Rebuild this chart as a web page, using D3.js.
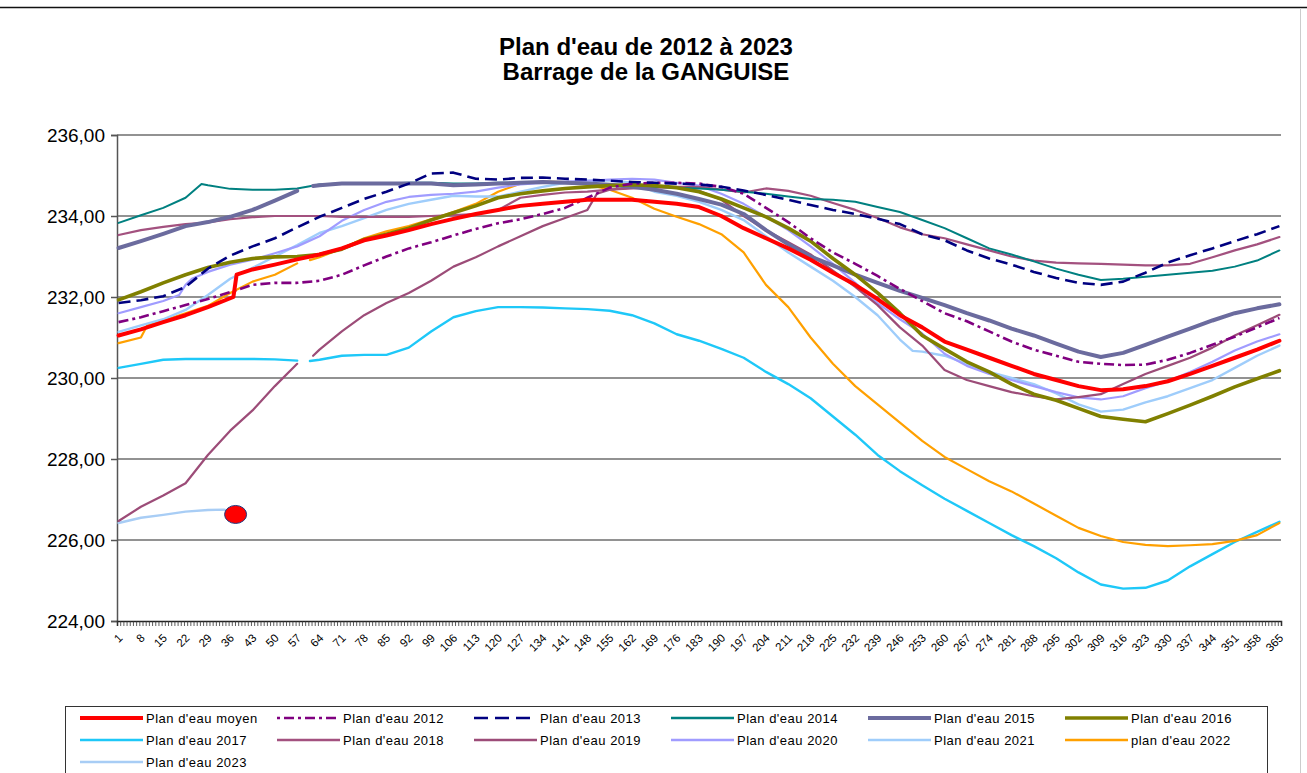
<!DOCTYPE html>
<html><head><meta charset="utf-8">
<script src="https://cdn.jsdelivr.net/npm/d3@7"></script>
<style>
html,body{margin:0;padding:0;background:#fff;}
svg{display:block;font-family:Arial,"Liberation Sans",sans-serif;}
</style></head>
<body>
<svg id="chart" width="1307" height="773"></svg>
<script>
// ---------- DATA (day, level in m NGF) ----------
const yTickValues = [224, 226, 228, 230, 232, 234, 236];
const xTickDays = [1,8,15,22,29,36,43,50,57,64,71,78,85,92,99,106,113,120,127,134,141,148,155,162,169,176,183,190,197,204,211,218,225,232,239,246,253,260,267,274,281,288,295,302,309,316,323,330,337,344,351,358,365];

const moyen = [[1,231.05],[8,231.2],[15,231.38],[22,231.55],[29,231.75],[37,232.0],[38,232.55],[43,232.68],[50,232.8],[57,232.93],[64,233.05],[71,233.2],[78,233.4],[85,233.52],[92,233.65],[99,233.8],[106,233.93],[113,234.05],[120,234.15],[127,234.25],[134,234.3],[141,234.35],[148,234.4],[155,234.4],[162,234.4],[169,234.35],[176,234.3],[183,234.22],[190,234.0],[197,233.7],[204,233.45],[211,233.2],[218,232.92],[225,232.6],[232,232.3],[239,231.95],[246,231.55],[253,231.25],[260,230.9],[267,230.7],[274,230.5],[281,230.3],[288,230.1],[295,229.95],[302,229.8],[309,229.7],[316,229.72],[323,229.8],[330,229.92],[337,230.1],[344,230.3],[351,230.5],[358,230.7],[365,230.92]];

const y2012 = [[1,231.38],[8,231.5],[15,231.65],[22,231.8],[29,231.95],[36,232.12],[43,232.3],[50,232.35],[57,232.35],[64,232.4],[71,232.55],[78,232.78],[85,233.0],[92,233.2],[99,233.35],[106,233.52],[113,233.68],[120,233.82],[127,233.92],[134,234.05],[141,234.2],[148,234.45],[155,234.7],[162,234.8],[169,234.82],[176,234.82],[183,234.8],[190,234.72],[197,234.55],[204,234.2],[211,233.85],[218,233.45],[225,233.1],[232,232.82],[239,232.52],[246,232.2],[253,231.9],[260,231.6],[267,231.4],[274,231.15],[281,230.9],[288,230.7],[295,230.55],[302,230.4],[309,230.35],[316,230.32],[323,230.33],[330,230.45],[337,230.62],[344,230.82],[351,231.02],[358,231.25],[365,231.48]];

const y2013 = [[1,231.85],[8,231.92],[15,232.02],[22,232.25],[29,232.7],[36,233.02],[43,233.25],[50,233.45],[57,233.72],[64,233.98],[71,234.2],[78,234.42],[85,234.6],[92,234.8],[99,235.05],[106,235.07],[113,234.92],[120,234.9],[127,234.94],[134,234.95],[141,234.92],[148,234.9],[155,234.87],[162,234.84],[169,234.82],[176,234.8],[183,234.78],[190,234.72],[197,234.63],[204,234.52],[211,234.4],[218,234.27],[225,234.15],[232,234.05],[239,233.93],[246,233.8],[253,233.55],[260,233.4],[267,233.15],[274,232.95],[281,232.8],[288,232.62],[295,232.47],[302,232.35],[309,232.3],[316,232.38],[323,232.6],[330,232.85],[337,233.03],[344,233.2],[351,233.38],[358,233.55],[365,233.75]];

const y2014 = [[1,233.83],[8,234.02],[15,234.2],[22,234.45],[27,234.79],[29,234.76],[36,234.67],[43,234.65],[50,234.65],[57,234.68],[64,234.78],[71,234.8],[78,234.8],[85,234.8],[92,234.82],[99,234.82],[106,234.8],[113,234.8],[120,234.82],[127,234.82],[134,234.82],[141,234.82],[148,234.8],[155,234.78],[162,234.75],[169,234.72],[176,234.7],[183,234.68],[190,234.65],[197,234.6],[204,234.55],[211,234.48],[218,234.42],[225,234.4],[232,234.35],[239,234.22],[246,234.1],[253,233.9],[260,233.7],[267,233.45],[274,233.2],[281,233.05],[288,232.88],[295,232.7],[302,232.55],[309,232.42],[316,232.45],[323,232.5],[330,232.55],[337,232.6],[344,232.65],[351,232.75],[358,232.9],[365,233.15]];

const y2015 = [[1,233.21],[8,233.38],[15,233.56],[22,233.75],[29,233.85],[36,233.98],[43,234.15],[50,234.38],[57,234.62],[59,null],[62,234.74],[64,234.76],[71,234.8],[78,234.8],[85,234.8],[92,234.8],[99,234.8],[106,234.76],[113,234.78],[120,234.8],[127,234.82],[134,234.84],[141,234.82],[148,234.8],[155,234.77],[162,234.72],[169,234.65],[176,234.55],[183,234.42],[190,234.28],[197,234.05],[204,233.65],[211,233.3],[218,233.0],[225,232.78],[232,232.55],[239,232.35],[246,232.15],[253,231.98],[260,231.8],[267,231.6],[274,231.42],[281,231.22],[288,231.05],[295,230.85],[302,230.65],[309,230.52],[316,230.62],[323,230.82],[330,231.02],[337,231.22],[344,231.42],[351,231.6],[358,231.72],[365,231.82]];

const y2016 = [[1,231.93],[8,232.13],[15,232.35],[22,232.55],[29,232.73],[36,232.86],[43,232.95],[50,232.99],[57,233.0],[64,233.05],[71,233.18],[78,233.42],[85,233.55],[92,233.7],[99,233.9],[106,234.08],[113,234.25],[120,234.45],[127,234.55],[134,234.62],[141,234.68],[148,234.72],[155,234.75],[162,234.77],[169,234.75],[176,234.7],[183,234.6],[190,234.42],[197,234.2],[204,233.98],[211,233.7],[218,233.38],[225,232.95],[232,232.55],[239,232.1],[246,231.6],[253,231.05],[260,230.72],[267,230.4],[274,230.15],[281,229.85],[288,229.6],[295,229.45],[302,229.25],[309,229.05],[316,228.98],[323,228.92],[330,229.12],[337,229.33],[344,229.55],[351,229.78],[358,229.98],[365,230.18]];

const y2017 = [[1,230.25],[8,230.35],[15,230.45],[22,230.47],[29,230.47],[36,230.47],[43,230.47],[50,230.46],[57,230.43],[59,null],[61,230.42],[64,230.45],[71,230.55],[78,230.57],[85,230.57],[92,230.75],[99,231.15],[106,231.5],[113,231.65],[120,231.75],[127,231.75],[134,231.74],[141,231.72],[148,231.7],[155,231.66],[162,231.55],[169,231.35],[176,231.08],[183,230.92],[190,230.72],[197,230.5],[204,230.15],[211,229.85],[218,229.5],[225,229.05],[232,228.6],[239,228.1],[246,227.7],[253,227.35],[260,227.02],[267,226.72],[274,226.42],[281,226.12],[288,225.85],[295,225.55],[302,225.2],[309,224.9],[316,224.8],[323,224.82],[330,225.0],[337,225.35],[344,225.65],[351,225.95],[358,226.2],[365,226.45]];

const y2018 = [[1,233.53],[8,233.65],[15,233.73],[22,233.8],[29,233.84],[36,233.92],[43,233.97],[50,234.0],[57,234.0],[64,234.0],[71,233.98],[78,233.98],[85,233.98],[92,233.98],[99,234.0],[106,234.02],[113,234.05],[120,234.15],[127,234.45],[134,234.52],[141,234.58],[148,234.6],[155,234.65],[162,234.68],[169,234.7],[176,234.72],[183,234.72],[190,234.65],[197,234.58],[204,234.68],[211,234.62],[218,234.5],[225,234.32],[232,234.15],[239,233.95],[246,233.72],[253,233.55],[260,233.45],[267,233.3],[274,233.15],[281,233.0],[288,232.9],[295,232.85],[302,232.83],[309,232.82],[316,232.8],[323,232.78],[330,232.78],[337,232.82],[344,232.98],[351,233.15],[358,233.3],[365,233.48]];

const y2019 = [[1,226.47],[8,226.82],[15,227.1],[22,227.4],[29,228.1],[36,228.7],[43,229.2],[50,229.8],[57,230.35],[59,null],[62,230.55],[64,230.7],[71,231.15],[78,231.55],[85,231.85],[92,232.1],[99,232.4],[106,232.75],[113,232.98],[120,233.25],[127,233.5],[134,233.75],[141,233.95],[148,234.15],[151,234.55],[155,234.65],[162,234.7],[169,234.72],[176,234.7],[183,234.62],[190,234.4],[197,234.0],[204,233.65],[211,233.35],[218,233.05],[225,232.65],[232,232.25],[239,231.8],[246,231.25],[253,230.8],[260,230.2],[267,229.95],[274,229.8],[281,229.65],[288,229.55],[295,229.47],[302,229.53],[309,229.6],[316,229.85],[323,230.1],[330,230.3],[337,230.5],[344,230.75],[351,231.05],[358,231.3],[365,231.56]];

const y2020 = [[1,231.6],[8,231.75],[15,231.9],[20,232.05],[22,232.3],[24,232.45],[29,232.62],[36,232.8],[43,232.92],[50,233.08],[57,233.25],[64,233.5],[71,233.88],[78,234.15],[85,234.35],[92,234.47],[99,234.52],[106,234.55],[113,234.6],[120,234.7],[127,234.78],[134,234.82],[141,234.85],[148,234.87],[155,234.9],[162,234.92],[169,234.9],[176,234.82],[183,234.75],[190,234.55],[197,234.3],[204,233.98],[211,233.65],[218,233.25],[225,232.82],[232,232.35],[239,231.85],[246,231.45],[253,231.1],[260,230.6],[267,230.3],[274,230.1],[281,229.95],[288,229.8],[295,229.65],[302,229.52],[309,229.47],[316,229.55],[323,229.75],[330,229.92],[337,230.15],[344,230.4],[351,230.68],[358,230.9],[365,231.08]];

const y2021 = [[1,231.14],[8,231.3],[15,231.45],[22,231.68],[29,232.05],[36,232.45],[43,232.72],[50,233.0],[57,233.28],[64,233.58],[71,233.75],[78,233.95],[85,234.15],[92,234.3],[99,234.4],[106,234.5],[113,234.48],[120,234.48],[127,234.6],[134,234.72],[141,234.82],[148,234.87],[155,234.88],[162,234.82],[169,234.6],[176,234.5],[183,234.35],[190,234.15],[197,233.9],[204,233.5],[211,233.1],[218,232.75],[225,232.4],[232,232.0],[239,231.55],[246,230.95],[250,230.67],[253,230.65],[260,230.55],[267,230.35],[274,230.15],[281,230.0],[288,229.85],[295,229.62],[302,229.35],[309,229.17],[316,229.22],[323,229.4],[330,229.55],[337,229.75],[344,229.95],[351,230.25],[358,230.55],[365,230.8]];

const y2022 = [[1,230.86],[8,231.0],[10,231.3],[15,231.42],[22,231.6],[29,231.78],[36,232.1],[43,232.38],[50,232.55],[57,232.83],[59,null],[61,232.91],[64,232.98],[71,233.2],[78,233.45],[85,233.62],[92,233.75],[99,233.92],[106,234.1],[113,234.3],[120,234.6],[127,234.8],[134,234.85],[141,234.84],[148,234.78],[155,234.65],[162,234.45],[169,234.18],[176,233.98],[183,233.8],[190,233.55],[197,233.1],[204,232.3],[211,231.75],[218,231.0],[225,230.35],[232,229.8],[239,229.35],[246,228.9],[253,228.45],[260,228.05],[267,227.75],[274,227.45],[281,227.2],[288,226.9],[295,226.6],[302,226.3],[309,226.1],[316,225.95],[323,225.88],[330,225.85],[337,225.87],[344,225.9],[351,225.98],[358,226.12],[365,226.42]];

const y2023 = [[1,226.42],[8,226.55],[15,226.62],[22,226.7],[29,226.74],[34,226.75],[38,226.68]];

const seriesNames = ["Plan d'eau moyen","Plan d'eau 2012","Plan d'eau 2013","Plan d'eau 2014","Plan d'eau 2015","Plan d'eau 2016","Plan d'eau 2017","Plan d'eau 2018","Plan d'eau 2019","Plan d'eau 2020","Plan d'eau 2021","plan d'eau 2022","Plan d'eau 2023"];
const seriesData = [moyen,y2012,y2013,y2014,y2015,y2016,y2017,y2018,y2019,y2020,y2021,y2022,y2023];
const seriesColors = ["#ff0000","#800080","#000080","#008080","#6b6b9e","#808000","#1ec8f8","#a3517f","#9c4c78","#a09cff","#9fcdfb","#ffa000","#a8cdf5"];
const seriesWidths = [4,2.6,2.6,2,4,3.6,2.4,2.2,2.2,2.2,2.4,2.2,2.4];
const seriesDash = [null,"10,4,3,4","12,6",null,null,null,null,null,null,null,null,null,null];
// draw order (back to front)
const drawOrder = [12,6,11,10,9,8,7,3,4,5,1,2,0];

// ---------- CHART ----------
const svg = d3.select("#chart");
const L = 117, R = 1281, T = 135, B = 621;

// outer border remnants
svg.append("line").attr("x1",0).attr("x2",1307).attr("y1",7.5).attr("y2",7.5).attr("stroke","#111").attr("stroke-width",1.5);
svg.append("line").attr("x1",1300.5).attr("x2",1300.5).attr("y1",8).attr("y2",773).attr("stroke","#ccc").attr("stroke-width",1);

// title
const title = svg.append("text").attr("text-anchor","middle").attr("font-weight","bold").attr("font-size",24).attr("fill","#000");
title.append("tspan").attr("x",646).attr("y",55).text("Plan d'eau de 2012 à 2023");
title.append("tspan").attr("x",646).attr("y",80).text("Barrage de la GANGUISE");

const x = d3.scaleLinear().domain([0.5,365.5]).range([L,R]);
const y = d3.scaleLinear().domain([224,236]).range([B,T]);

// gridlines
svg.append("g").selectAll("line").data(yTickValues.filter(v=>v>224)).join("line")
  .attr("x1",L).attr("x2",R).attr("y1",d=>y(d)).attr("y2",d=>y(d))
  .attr("stroke","#6e6e6e").attr("stroke-width",1.5);

// y axis
const yAxis = svg.append("g").attr("transform",`translate(${L},0)`)
  .call(d3.axisLeft(y).tickValues(yTickValues).tickSize(6).tickPadding(6)
    .tickFormat(d=>d3.format(".2f")(d).replace(".",",")));
yAxis.select(".domain").attr("stroke","#555").attr("stroke-width",1.5);
yAxis.selectAll(".tick line").attr("stroke","#555").attr("stroke-width",1.5);
yAxis.selectAll("text").attr("font-size",19).attr("fill","#000").attr("font-family","Arial, 'Liberation Sans', sans-serif");

// x axis ticks (every day)
const xAxis = svg.append("g").attr("transform",`translate(0,${B})`)
  .call(d3.axisBottom(x).tickValues(d3.range(0.5,366,1)).tickSize(5).tickFormat(""));
xAxis.select(".domain").attr("stroke","#222").attr("stroke-width",1.5);
xAxis.selectAll(".tick line").attr("stroke","#333").attr("stroke-width",0.8);

// x tick labels
svg.append("g").selectAll("text").data(xTickDays).join("text")
  .attr("transform",d=>`translate(${x(d)-1},${B+12}) rotate(-45)`)
  .attr("text-anchor","end").attr("dominant-baseline","hanging")
  .attr("font-size",11.5).attr("fill","#000").text(d=>d);

// lines
const line = d3.line().defined(d=>d[1]!==null).x(d=>x(d[0])).y(d=>y(d[1]));
const lg = svg.append("g");
drawOrder.forEach(i=>{
  lg.append("path").datum(seriesData[i]).attr("d",line)
    .attr("fill","none").attr("stroke",seriesColors[i]).attr("stroke-width",seriesWidths[i])
    .attr("stroke-linejoin","round").attr("stroke-linecap", seriesDash[i] ? "butt" : "round")
    .attr("stroke-dasharray",seriesDash[i]);
});
// marker at last 2023 point
const last = y2023[y2023.length-1];
svg.append("ellipse").attr("cx",x(last[0])-1).attr("cy",y(last[1])+2).attr("rx",11).attr("ry",9)
  .attr("fill","#ff0000").attr("stroke","#1f3a80").attr("stroke-width",1);

// legend
const lgBox = svg.append("g");
lgBox.append("rect").attr("x",65.5).attr("y",706.5).attr("width",1202).attr("height",80)
  .attr("fill","#fff").attr("stroke","#333").attr("stroke-width",1);
seriesNames.forEach((n,i)=>{
  const col = i%6, row = Math.floor(i/6);
  const lx = 80 + col*197, ly = 718 + row*22;
  lgBox.append("line").attr("x1",lx).attr("x2",lx+63).attr("y1",ly).attr("y2",ly)
    .attr("stroke",seriesColors[i]).attr("stroke-width",Math.max(seriesWidths[i],2.5))
    .attr("stroke-dasharray",seriesDash[i] ? (i===1?"3,4,10,4":"14,7") : null);
  lgBox.append("text").attr("x",lx+66).attr("y",ly+4.5).attr("font-size",13)
    .attr("letter-spacing","0.5px").attr("fill","#000").text(n);
});
</script>
</body></html>
